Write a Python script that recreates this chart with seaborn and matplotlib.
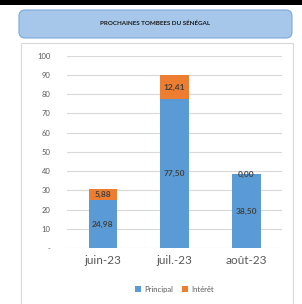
import matplotlib.pyplot as plt
import seaborn as sns
import pandas as pd
from matplotlib.patches import FancyBboxPatch, Rectangle

# data
months = ['juin-23', 'juil.-23', 'août-23']
principal = [24.98, 77.50, 38.50]
interet = [5.88, 12.41, 0.00]
yticks = [0, 10, 20, 30, 40, 50, 60, 70, 80, 90, 100]

blue = '#5B9BD5'
orange = '#ED7D31'
txt = '#595959'

df = pd.DataFrame({'mois': months, 'Principal': principal, 'Intérêt': interet})
df['total'] = df['Principal'] + df['Intérêt']

sns.set_theme(style='white')
plt.rcParams['font.family'] = ['Lato', 'DejaVu Sans']

fig = plt.figure(figsize=(3.02, 3.04), dpi=100)
fig.patch.set_facecolor('white')

# black strip on top, title box, chart frame
fig.patches.append(Rectangle((0, 1 - 5 / 304), 1, 5 / 304, transform=fig.transFigure,
                             facecolor='black', edgecolor='none', zorder=-2))
fig.patches.append(Rectangle((21 / 302, -0.01), 272 / 302, 1 - 43 / 304 + 0.01,
                             transform=fig.transFigure, facecolor='white',
                             edgecolor='#D9D9D9', linewidth=0.8, zorder=-2))
fig.patches.append(FancyBboxPatch((19 / 302, 1 - 38 / 304), 273 / 302, 28 / 304,
                                  boxstyle='round,pad=0,rounding_size=0.02',
                                  transform=fig.transFigure, facecolor='#A6C7EA',
                                  edgecolor='#7EA9DA', linewidth=0.8, zorder=-2))
fig.text(155 / 302, 1 - 23 / 304, 'PROCHAINES TOMBEES DU SÉNÉGAL', ha='center', va='center',
         fontsize=4.5, fontweight='bold', color='#1a1a1a')

ax = fig.add_axes([67 / 302, 1 - 248 / 304, 215 / 302, 192.3 / 304])
sns.barplot(ax=ax, data=df, x='mois', y='total', color=orange, width=0.4,
            saturation=1, linewidth=0, label='Intérêt', zorder=3)
sns.barplot(ax=ax, data=df, x='mois', y='Principal', color=blue, width=0.4,
            saturation=1, linewidth=0, label='Principal', zorder=3)

for i in range(len(months)):
    ax.text(i, principal[i] / 2, f'{principal[i]:.2f}'.replace('.', ','), ha='center',
            va='center', fontsize=6, fontweight='bold', color='#404040', zorder=4)
    ax.text(i, principal[i] + interet[i] / 2 if interet[i] > 0 else principal[i],
            f'{interet[i]:.2f}'.replace('.', ','), ha='center', va='center',
            fontsize=6, fontweight='bold', color='#404040', zorder=4)

ax.set_ylim(0, 100)
ax.set_xlim(-0.5, 2.5)
ax.set_yticks(yticks)
ax.set_yticklabels(['-' if v == 0 else str(v) for v in yticks])
ax.yaxis.grid(True, color='#D9D9D9', linewidth=0.8, zorder=0)
ax.set_axisbelow(True)
ax.tick_params(axis='y', labelsize=5.5, labelcolor=txt, length=0, pad=12)
ax.tick_params(axis='x', labelsize=8.5, labelcolor=txt, length=0, pad=5)
ax.set_xlabel('')
ax.set_ylabel('')
sns.despine(ax=ax, left=True, bottom=True, top=True, right=True)
ax.patch.set_alpha(0)

handles, labels = ax.get_legend_handles_labels()
order = [labels.index('Principal'), labels.index('Intérêt')]
leg = ax.legend([handles[k] for k in order], [labels[k] for k in order],
                loc='center', bbox_to_anchor=(0.5, -0.215), ncol=2, frameon=False,
                fontsize=5.5, handlelength=0.8, handleheight=0.8, handletextpad=0.4,
                columnspacing=1.2)
for t in leg.get_texts():
    t.set_color(txt)

fig.savefig('out.png', dpi=100)
